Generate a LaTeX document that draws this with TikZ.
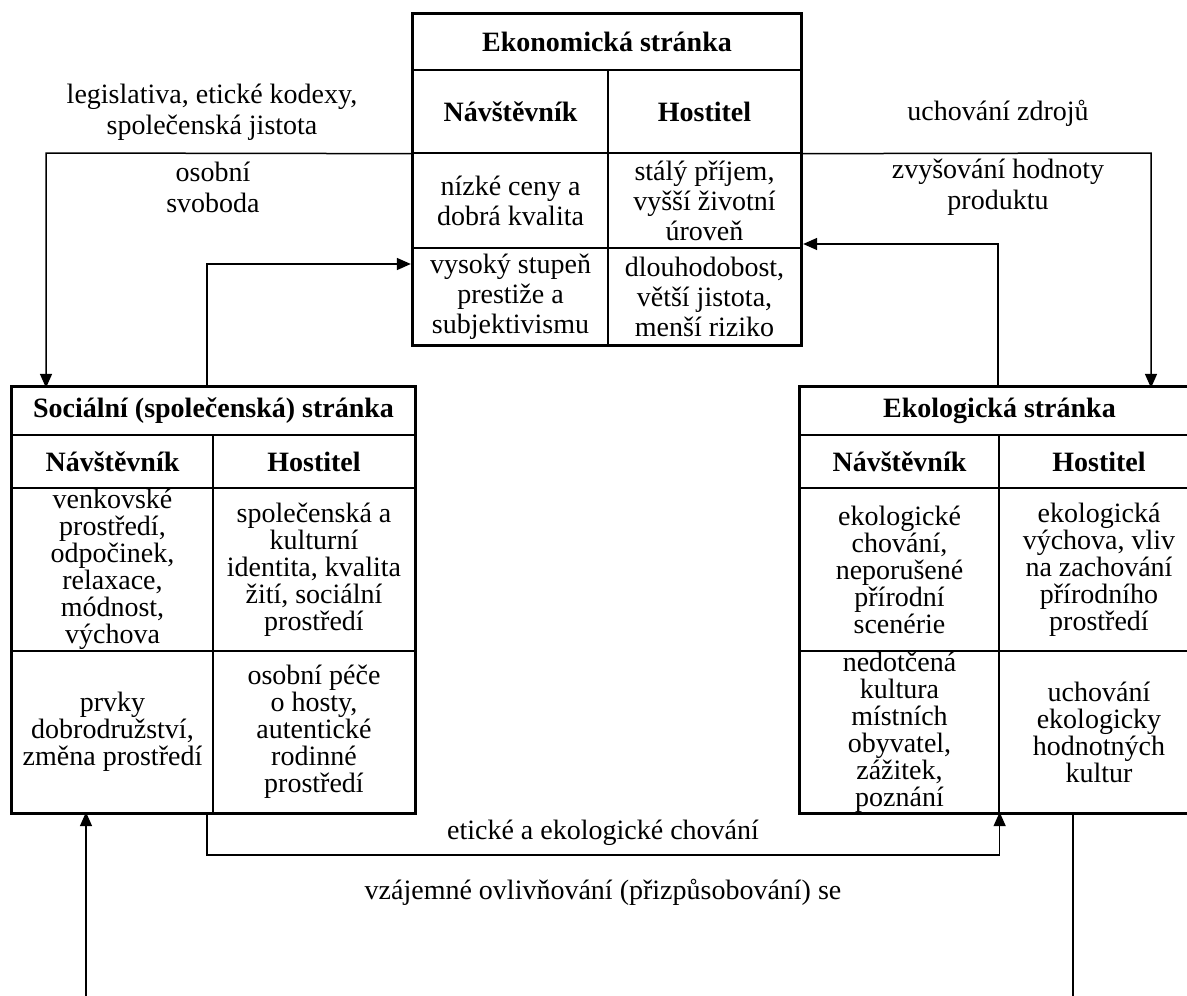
\documentclass[tikz,border=0pt]{standalone}
\usepackage{fontspec}
\setmainfont{Liberation Serif}
\usetikzlibrary{arrows.meta}
\tikzstyle{cell} = [draw, line width=1.3pt, align=center, inner sep=0pt, font=\fontsize{28}{27}\selectfont]
\tikzstyle{ecell} = [cell, font=\fontsize{28}{30}\selectfont]
\tikzstyle{head} = [cell, font=\fontsize{28}{30}\selectfont\bfseries]
\tikzstyle{frame} = [draw, line width=3pt]
\tikzstyle{link} = [draw, line width=1.5pt]
\tikzstyle{label} = [align=center, inner sep=0pt, font=\fontsize{28}{31}\selectfont]

\begin{document}
\begin{tikzpicture}[x=1pt, y=-1pt, >={Triangle[length=14pt, width=12pt]}]
    \useasboundingbox (0,0) rectangle (1187,996);
    % Draw the economic table.
    \node [head, minimum width=388pt, minimum height=56pt] (eTitle) at (607, 42) {Ekonomická stránka};
    \node [head, minimum width=195pt, minimum height=83pt] (eHv) at (510.5, 111.5) {Návštěvník};
    \node [head, minimum width=193pt, minimum height=83pt] (eHh) at (704.5, 111.5) {Hostitel};
    \node [ecell, minimum width=195pt, minimum height=95pt] (eV1) at (510.5, 200.5) {nízké ceny a\\dobrá kvalita};
    \node [ecell, minimum width=193pt, minimum height=95pt] (eH1) at (704.5, 200.5) {stálý příjem,\\vyšší životní\\úroveň};
    \node [ecell, minimum width=195pt, minimum height=97pt] (eV2) at (510.5, 296.5) {vysoký stupeň\\prestiže a\\subjektivismu};
    \node [ecell, minimum width=193pt, minimum height=97pt] (eH2) at (704.5, 296.5) {dlouhodobost,\\větší jistota,\\menší riziko};
    \path [frame] (eTitle.north west) rectangle (eH2.south east);
    % Draw the social table.
    \node [head, minimum width=403pt, minimum height=48pt] (sTitle) at (213.5, 411) {Sociální (společenská) stránka};
    \node [head, minimum width=201pt, minimum height=53pt] (sHv) at (112.5, 461.5) {Návštěvník};
    \node [head, minimum width=202pt, minimum height=53pt] (sHh) at (314, 461.5) {Hostitel};
    \node [cell, minimum width=201pt, minimum height=163pt] (sV1) at (112.5, 569.5) {venkovské\\prostředí,\\odpočinek,\\relaxace,\\módnost,\\výchova};
    \node [cell, minimum width=202pt, minimum height=163pt] (sH1) at (314, 569.5) {společenská a\\kulturní\\identita, kvalita\\žití, sociální\\prostředí};
    \node [cell, minimum width=201pt, minimum height=162pt] (sV2) at (112.5, 732) {prvky\\dobrodružství,\\změna prostředí};
    \node [cell, minimum width=202pt, minimum height=162pt] (sH2) at (314, 732) {osobní péče\\o hosty,\\autentické\\rodinné\\prostředí};
    \path [frame] (sTitle.north west) rectangle (sH2.south east);
    % Draw the ecological table.
    \node [head, minimum width=399pt, minimum height=48pt] (kTitle) at (999.5, 411) {Ekologická stránka};
    \node [head, minimum width=199pt, minimum height=53pt] (kHv) at (899.5, 461.5) {Návštěvník};
    \node [head, minimum width=200pt, minimum height=53pt] (kHh) at (1099, 461.5) {Hostitel};
    \node [cell, minimum width=199pt, minimum height=163pt] (kV1) at (899.5, 569.5) {ekologické\\chování,\\neporušené\\přírodní\\scenérie};
    \node [cell, minimum width=200pt, minimum height=163pt] (kH1) at (1099, 569.5) {ekologická\\výchova, vliv\\na zachování\\přírodního\\prostředí};
    \node [cell, minimum width=199pt, minimum height=162pt] (kV2) at (899.5, 732) {nedotčená\\kultura\\místních\\obyvatel,\\zážitek,\\poznání};
    \node [cell, minimum width=200pt, minimum height=162pt] (kH2) at (1099, 732) {uchování\\ekologicky\\hodnotných\\kultur};
    \path [frame] (kTitle.north west) rectangle (kH2.south east);
    % Turning points of the connectors.
    \coordinate (lTurn) at (46, 153);
    \coordinate (lUp) at (207, 264);
    \coordinate (rTurn) at (1151, 153);
    \coordinate (rUp) at (998, 244);
    \coordinate (bTurn) at (207, 855);
    \coordinate (lFoot) at (86, 996);
    \coordinate (rFoot) at (1073, 996);
    % Economic <-> Social.
    \path [link, ->] (eHv.south west) -- (lTurn) -- ([yshift=-1.5pt]lTurn |- sTitle.north);
    \path [link, ->] (lUp |- sTitle.north) -- (lUp) -- ([xshift=-1.5pt]lUp -| eV2.west);
    % Economic <-> Ecological.
    \path [link, ->] (eHh.south east) -- (rTurn) -- ([yshift=-1.5pt]rTurn |- kTitle.north);
    \path [link, ->] (rUp |- kTitle.north) -- (rUp) -- ([xshift=1.5pt]rUp -| eH2.east);
    % Social -> Ecological.
    \path [link, ->] (bTurn |- sV2.south) -- (bTurn) -- (bTurn -| kV2.south east) -- ([yshift=1.5pt]kV2.south east);
    % Mutual influence.
    \path [link, ->] (lFoot) -- ([yshift=1.5pt]lFoot |- sV2.south);
    \path [link] (rFoot |- kH2.south) -- (rFoot);
    % Labels.
    \node [label] (lLaw) at (212, 112) {legislativa, etické kodexy,\\společenská jistota};
    \node [label] (lFree) at (213, 187) {osobní\\svoboda};
    \node [label] (lRes) at (998, 113) {uchování zdrojů};
    \node [label] (lValue) at (998, 187) {zvyšování hodnoty\\produktu};
    \node [label] (lEthic) at (603, 833) {etické a ekologické chování};
    \node [label] (lMutual) at (603, 892) {vzájemné ovlivňování (přizpůsobování) se};
\end{tikzpicture}
\end{document}
